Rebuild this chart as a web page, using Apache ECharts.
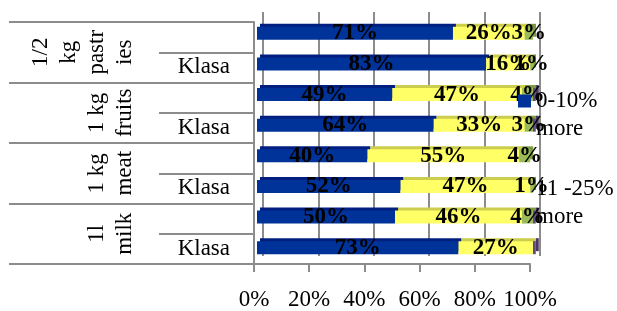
<!DOCTYPE html>
<html>
<head>
<meta charset="utf-8">
<script src="https://cdn.jsdelivr.net/npm/echarts@6/dist/echarts.min.js"></script>
<style>
  html, body { margin: 0; padding: 0; background: #fff; }
  #chart { width: 617px; height: 311px; }
</style>
</head>
<body>
<div id="chart"></div>
<script>
// categories
const groups = ['1/2\nkg\npastr\nies', '1 kg\nfruits', '1 kg\nmeat', '1l\nmilk']
const rows = ['', 'Klasa', '', 'Klasa', '', 'Klasa', '', 'Klasa']
const seriesNames = ['0-10%\nmore', '11 -25%\nmore', 'Series 3', 'Series 4']

// values (percent of row)
const lowValues = [71, 83, 49, 64, 40, 52, 50, 73]
const midValues = [26, 16, 47, 33, 55, 47, 46, 27]
const highValues = [3, 1, 4, 3, 4, 1, 4, 0]
const restValues = [0, 0, 1, 1, 0, 0, 1, 1]

const fontFamily = 'Liberation Serif'
const gray = '#8c8c8c'

function barSeries(name, data, color, topColor, showLabel) {
  return {
    name: name,
    type: 'bar',
    stack: 'all',
    xAxisIndex: 0,
    yAxisIndex: 0,
    barWidth: 13,
    clip: false,
    itemStyle: {
      color: color,
      shadowColor: topColor,
      shadowOffsetX: 3,
      shadowOffsetY: -3,
      shadowBlur: 0
    },
    label: {
      show: showLabel,
      position: 'inside',
      formatter: p => (p.value ? p.value + '%' : ''),
      fontFamily: fontFamily,
      fontSize: 23,
      fontWeight: 'bold',
      color: '#000'
    },
    data: data
  }
}

const chart = echarts.init(document.getElementById('chart'))

chart.setOption({
  backgroundColor: '#fff',
  animation: false,
  grid: [
    // bars
    { left: 257, right: 84, top: 18, bottom: 48 },
    // front axes
    { left: 254, right: 87, top: 22, bottom: 46 },
    // back wall
    { left: 263, right: 77, top: 12, bottom: 55 }
  ],
  legend: {
    orient: 'vertical',
    left: 518,
    top: 59,
    padding: 0,
    itemWidth: 13,
    itemHeight: 13,
    itemGap: 4,
    selectedMode: false,
    formatter: name => '\n' + name,
    data: [
      { name: seriesNames[0], icon: 'rect' },
      { name: seriesNames[1], icon: 'rect', itemStyle: { opacity: 0 } }
    ],
    textStyle: {
      fontFamily: fontFamily,
      fontSize: 23,
      color: '#000',
      lineHeight: 28
    }
  },
  xAxis: [
    {
      gridIndex: 0, type: 'value', min: 0, max: 100,
      show: false
    },
    {
      gridIndex: 1, type: 'value', min: 0, max: 100, interval: 20,
      axisLine: { show: true, lineStyle: { color: gray, width: 2 } },
      axisTick: { show: true, length: 8, lineStyle: { color: gray, width: 2 } },
      splitLine: { show: false },
      axisLabel: {
        formatter: '{value}%',
        margin: 24,
        fontFamily: fontFamily,
        fontSize: 23,
        color: '#000'
      }
    },
    {
      gridIndex: 2, type: 'value', min: 0, max: 100, interval: 20,
      axisLine: { show: false },
      axisTick: { show: false },
      axisLabel: { show: false },
      splitLine: { show: true, lineStyle: { color: gray, width: 2 } }
    }
  ],
  yAxis: [
    {
      gridIndex: 0, type: 'category', data: rows, inverse: true,
      show: false
    },
    {
      gridIndex: 1, type: 'category', data: rows, inverse: true,
      position: 'left',
      axisLine: { show: true, lineStyle: { color: gray, width: 2 } },
      axisTick: { show: true, length: 95, interval: 0, lineStyle: { color: gray, width: 2 } },
      axisLabel: {
        interval: 0,
        margin: 24,
        fontFamily: fontFamily,
        fontSize: 23,
        color: '#000'
      }
    },
    {
      gridIndex: 1, type: 'category', data: groups, inverse: true,
      position: 'left',
      offset: 0,
      axisLine: { show: false },
      axisTick: { show: true, length: 245, interval: 0, lineStyle: { color: gray, width: 2 } },
      axisLabel: {
        interval: 0,
        rotate: 90,
        margin: 115,
        align: 'center',
        verticalAlign: 'bottom',
        lineHeight: 28,
        fontFamily: fontFamily,
        fontSize: 23,
        color: '#000'
      }
    },
    {
      gridIndex: 2, type: 'category', data: rows, inverse: true,
      show: false
    }
  ],
  series: [
    barSeries(seriesNames[0], lowValues, '#003399', '#001f80', true),
    barSeries(seriesNames[1], midValues, '#ffff66', '#cccc4d', true),
    barSeries(seriesNames[2], highValues, '#9bbb59', '#7a9a40', true),
    barSeries(seriesNames[3], restValues, '#604a7b', '#4a3860', false)
  ]
})
</script>
</body>
</html>
